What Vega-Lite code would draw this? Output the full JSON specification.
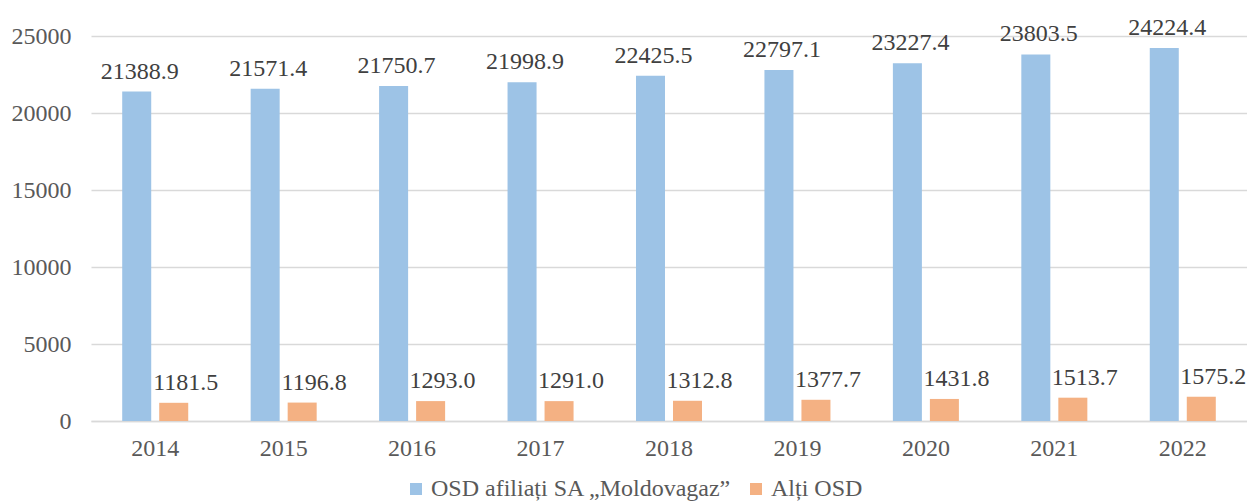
{
  "$schema": "https://vega.github.io/schema/vega-lite/v6.json",
  "autosize": {"type": "none"},
  "padding": {"left": 91, "top": 36, "right": 0, "bottom": 82},
  "width": 1156,
  "height": 385,
  "background": "white",
  "config": {
    "view": {"stroke": null},
    "font": "Times New Roman, Liberation Serif, serif"
  },
  "data": {
    "values": [
      {"year": "2014", "series": "OSD afiliați SA „Moldovagaz”", "value": 21388.9},
      {"year": "2015", "series": "OSD afiliați SA „Moldovagaz”", "value": 21571.4},
      {"year": "2016", "series": "OSD afiliați SA „Moldovagaz”", "value": 21750.7},
      {"year": "2017", "series": "OSD afiliați SA „Moldovagaz”", "value": 21998.9},
      {"year": "2018", "series": "OSD afiliați SA „Moldovagaz”", "value": 22425.5},
      {"year": "2019", "series": "OSD afiliați SA „Moldovagaz”", "value": 22797.1},
      {"year": "2020", "series": "OSD afiliați SA „Moldovagaz”", "value": 23227.4},
      {"year": "2021", "series": "OSD afiliați SA „Moldovagaz”", "value": 23803.5},
      {"year": "2022", "series": "OSD afiliați SA „Moldovagaz”", "value": 24224.4},
      {"year": "2014", "series": "Alți OSD", "value": 1181.5},
      {"year": "2015", "series": "Alți OSD", "value": 1196.8},
      {"year": "2016", "series": "Alți OSD", "value": 1293.0},
      {"year": "2017", "series": "Alți OSD", "value": 1291.0},
      {"year": "2018", "series": "Alți OSD", "value": 1312.8},
      {"year": "2019", "series": "Alți OSD", "value": 1377.7},
      {"year": "2020", "series": "Alți OSD", "value": 1431.8},
      {"year": "2021", "series": "Alți OSD", "value": 1513.7},
      {"year": "2022", "series": "Alți OSD", "value": 1575.2}
    ]
  },
  "encoding": {
    "x": {
      "field": "year", "type": "nominal", "title": null,
      "scale": {"paddingInner": 0.486, "paddingOuter": 0.243},
      "axis": {
        "labelAngle": 0, "ticks": false, "domainColor": "#d9d9d9", "domainWidth": 1.5,
        "labelFont": "Times New Roman, Liberation Serif, serif", "labelFontSize": 24, "labelColor": "#595959",
        "labelPadding": 15, "grid": false
      }
    },
    "xOffset": {
      "field": "series", "type": "nominal",
      "sort": ["OSD afiliați SA „Moldovagaz”", "Alți OSD"],
      "scale": {"paddingInner": 0.216, "paddingOuter": 0}
    },
    "y": {
      "field": "value", "type": "quantitative", "title": null,
      "scale": {"domain": [0, 25000], "nice": false},
      "axis": {
        "values": [0, 5000, 10000, 15000, 20000, 25000],
        "format": "d", "ticks": false, "domain": false,
        "gridColor": "#d9d9d9", "gridWidth": 1.5,
        "labelFont": "Times New Roman, Liberation Serif, serif", "labelFontSize": 24, "labelColor": "#595959",
        "labelPadding": 20
      }
    }
  },
  "layer": [
    {
      "mark": {"type": "bar"},
      "encoding": {
        "color": {
          "field": "series", "type": "nominal",
          "sort": ["OSD afiliați SA „Moldovagaz”", "Alți OSD"],
          "scale": {"domain": ["OSD afiliați SA „Moldovagaz”", "Alți OSD"], "range": ["#9DC3E6", "#F4B183"]},
          "legend": {
            "title": null, "orient": "none", "direction": "horizontal",
            "legendX": 313, "legendY": 441,
            "symbolType": "square", "symbolSize": 144, "symbolStrokeWidth": 0,
            "labelFont": "Times New Roman, Liberation Serif, serif", "labelFontSize": 24, "labelColor": "#595959",
            "labelOffset": 3, "columnPadding": 12, "labelLimit": 0
          }
        }
      }
    },
    {
      "transform": [{"filter": "datum.series !== 'Alți OSD'"}],
      "mark": {"type": "text", "baseline": "bottom", "dy": -8, "dx": 3, "font": "Times New Roman, Liberation Serif, serif", "fontSize": 24, "color": "#404040"},
      "encoding": {"text": {"field": "value", "type": "quantitative", "format": ".1f"}}
    },
    {
      "transform": [{"filter": "datum.series === 'Alți OSD'"}],
      "mark": {"type": "text", "baseline": "bottom", "dy": -8, "dx": 12, "font": "Times New Roman, Liberation Serif, serif", "fontSize": 24, "color": "#404040"},
      "encoding": {"text": {"field": "value", "type": "quantitative", "format": ".1f"}}
    }
  ]
}
